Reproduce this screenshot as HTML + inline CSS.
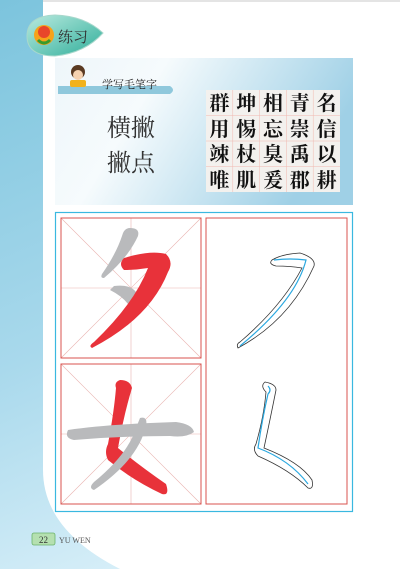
<!DOCTYPE html>
<html><head><meta charset="utf-8"><style>
html,body{margin:0;padding:0;width:400px;height:569px;overflow:hidden;background:#fff}
svg{display:block}
text{font-family:"Liberation Serif","Noto Serif CJK SC",serif}
</style></head><body>
<svg width="400" height="569" viewBox="0 0 400 569">
<defs>
<linearGradient id="side" x1="0" y1="0" x2="0.3" y2="1">
<stop offset="0" stop-color="#7cc4dd"/><stop offset="0.6" stop-color="#a9d9ec"/><stop offset="1" stop-color="#d6eef8"/></linearGradient>
<linearGradient id="panel" x1="0" y1="0" x2="1" y2="0.3">
<stop offset="0" stop-color="#eef6fa"/><stop offset="0.35" stop-color="#f6fbfd"/><stop offset="1" stop-color="#9fd0e6"/></linearGradient>
<linearGradient id="badge" x1="0" y1="0" x2="1" y2="1">
<stop offset="0" stop-color="#b9eadf"/><stop offset="1" stop-color="#2fae9a"/></linearGradient>
</defs>
<rect width="400" height="569" fill="url(#side)"/>
<path d="M43 0 H400 V569 H120 Q43 530 43 470 Z" fill="#fff"/>
<line x1="43" y1="1" x2="400" y2="1" stroke="#e4e4e4" stroke-width="2"/>
<g>
<path d="M27 36 Q27 16 55 15 Q85 16 103 33 Q85 53 55 56 Q27 56 27 36 Z" fill="url(#badge)" stroke="#a8d8cc" stroke-width="1"/>
<circle cx="44" cy="35" r="10" fill="#f6a21a"/><circle cx="44" cy="32" r="6" fill="#e8462a"/>
<path d="M38 40 Q44 46 50 40" stroke="#3a9a2a" stroke-width="3" fill="none"/>
<text x="58" y="42" font-size="15" fill="#333" font-family="Liberation Sans,Noto Sans CJK SC,sans-serif">练习</text>
</g>
<rect x="55" y="58" width="298" height="147" fill="url(#panel)"/>
<g>
<path d="M58 86 H170 Q176 90 170 94 H58 Z" fill="#8fc8dc"/>
<circle cx="78" cy="72" r="7" fill="#5a3a22"/><circle cx="78" cy="75" r="5" fill="#f6d2b0"/>
<rect x="70" y="80" width="16" height="7" rx="2" fill="#f2b21c"/>
<text x="102" y="88" font-size="11" fill="#222" font-family="Liberation Sans,Noto Sans CJK SC,sans-serif">学写毛笔字</text>
</g>
<text x="107" y="136" font-size="24" fill="#333">横撇</text>
<text x="107" y="171" font-size="24" fill="#333">撇点</text>
<g>
<rect x="206" y="90" width="134" height="102" fill="#f3f1ee"/>
<g stroke="#f0b8b0" stroke-width="0.5">
<line x1="232.8" y1="90" x2="232.8" y2="192"/><line x1="259.6" y1="90" x2="259.6" y2="192"/><line x1="286.4" y1="90" x2="286.4" y2="192"/><line x1="313.2" y1="90" x2="313.2" y2="192"/>
<line x1="206" y1="115.5" x2="340" y2="115.5"/><line x1="206" y1="141" x2="340" y2="141"/><line x1="206" y1="166.5" x2="340" y2="166.5"/>
</g>
<g font-size="20" fill="#111" font-weight="bold" font-family="Noto Serif CJK SC,serif" text-anchor="middle">
<text y="110"><tspan x="219.4">群</tspan><tspan x="246.2">坤</tspan><tspan x="273">相</tspan><tspan x="299.8">青</tspan><tspan x="326.6">名</tspan></text>
<text y="136"><tspan x="219.4">用</tspan><tspan x="246.2">惕</tspan><tspan x="273">忘</tspan><tspan x="299.8">崇</tspan><tspan x="326.6">信</tspan></text>
<text y="161"><tspan x="219.4">竦</tspan><tspan x="246.2">杖</tspan><tspan x="273">臭</tspan><tspan x="299.8">禹</tspan><tspan x="326.6">以</tspan></text>
<text y="187"><tspan x="219.4">唯</tspan><tspan x="246.2">肌</tspan><tspan x="273">爰</tspan><tspan x="299.8">郡</tspan><tspan x="326.6">耕</tspan></text>
</g>
</g>
<rect x="55.5" y="212.5" width="297" height="299" fill="#fff" stroke="#3ab8e0" stroke-width="1.2"/>
<g stroke="#e9b4b0" stroke-width="0.6">
<line x1="61" y1="218" x2="201" y2="358"/><line x1="201" y1="218" x2="61" y2="358"/>
<line x1="131" y1="218" x2="131" y2="358"/><line x1="61" y1="288" x2="201" y2="288"/>
</g>
<g stroke="#e9b4b0" stroke-width="0.6">
<line x1="61" y1="364" x2="201" y2="504"/><line x1="201" y1="364" x2="61" y2="504"/>
<line x1="131" y1="364" x2="131" y2="504"/><line x1="61" y1="434" x2="201" y2="434"/>
</g>
<path d="M130 228 Q140 228 138 236 Q128 258 104 278 Q100 278 102 274 Q116 254 122 236 Q124 228 130 228 Z" fill="#b9babc"/>
<path d="M114 286 Q130 284 136 292 Q136 302 128 304 Q122 296 110 290 Z" fill="#b9babc"/>
<path d="M124 258 Q150 250 166 254 Q174 262 168 272 Q150 318 92 348 Q88 346 94 342 Q134 304 148 268 Q136 270 124 270 Q118 264 124 258 Z" fill="#e8323a"/>
<path d="M120 380 Q130 380 132 388 Q124 414 118 448 Q140 466 166 484 Q170 496 162 494 Q132 480 108 460 Q104 452 108 444 Q114 412 116 388 Q114 382 120 380 Z" fill="#e8323a"/>
<path d="M68 430 Q110 424 176 422 Q192 424 194 432 Q186 438 170 436 Q120 436 74 440 Q64 438 68 430 Z" fill="#b9babc"/>
<path d="M140 418 Q148 416 146 426 Q138 460 94 490 Q88 488 94 482 Q128 454 136 428 Z" fill="#b9babc"/>
<rect x="61" y="218" width="140" height="140" fill="none" stroke="#d9534f" stroke-width="1"/>
<rect x="61" y="364" width="140" height="140" fill="none" stroke="#d9534f" stroke-width="1"/>
<rect x="206" y="218" width="141" height="286" fill="none" stroke="#d9534f" stroke-width="1"/>
<g fill="none">
<path d="M272 260 Q282 254 300 253 Q316 258 314 266 Q290 320 238 348 Q236 344 240 342 Q282 306 302 268 Q290 266 276 266 Q268 264 272 260 Z" stroke="#333" stroke-width="0.8"/>
<path d="M274 260 Q290 258 306 260 Q296 300 240 346" stroke="#2aa8e0" stroke-width="1.2"/>
</g>
<g fill="none">
<path d="M265 382 Q276 384 276 390 Q270 420 264 448 Q300 462 312 480 Q314 490 308 488 Q290 470 258 456 Q252 450 256 444 Q264 416 266 392 Q260 386 265 382 Z" stroke="#333" stroke-width="0.8"/>
<path d="M268 386 Q272 390 268 394 Q262 420 258 448 Q290 460 308 484" stroke="#2aa8e0" stroke-width="1.2"/>
</g>
<g>
<rect x="32" y="533" width="23" height="12" rx="2" fill="#b5e0b0" stroke="#6bb36b" stroke-width="0.8"/>
<text x="43.5" y="543" font-size="9" text-anchor="middle" fill="#333" font-family="Liberation Sans,sans-serif">22</text>
<text x="59" y="543" font-size="8" fill="#555" font-family="Liberation Sans,sans-serif">YU WEN</text>
</g>
</svg>
</body></html>
